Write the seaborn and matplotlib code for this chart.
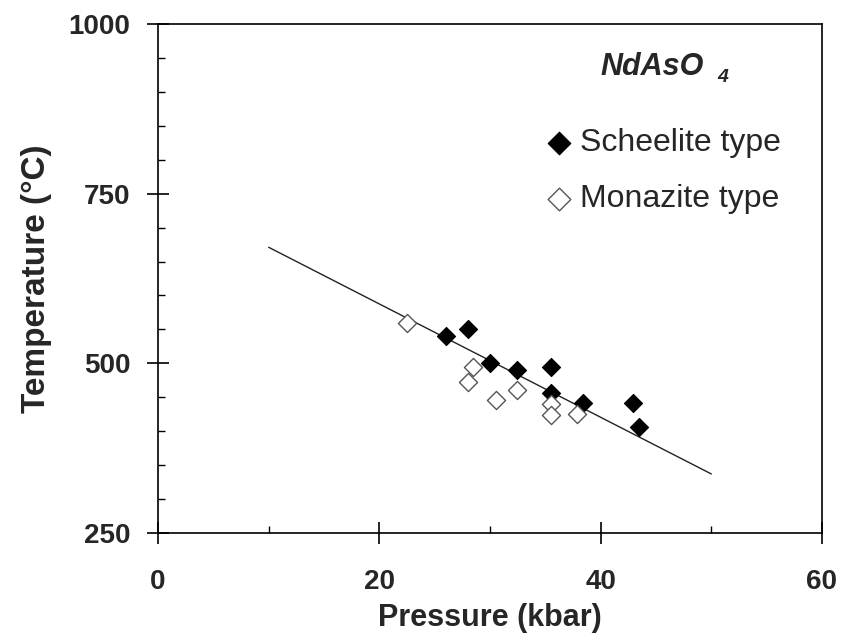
import matplotlib
matplotlib.use("Agg")
import matplotlib.pyplot as plt
import seaborn as sns
import pandas as pd
from matplotlib.ticker import MultipleLocator

# ---- data ----
scheelite_p = [26.0, 28.0, 30.0, 32.4, 35.5, 35.5, 38.4, 42.9, 43.5]
scheelite_t = [540, 550, 500, 490, 494, 456, 441, 441, 406]
monazite_p = [22.5, 28.5, 28.0, 30.5, 32.4, 35.5, 35.5, 37.9]
monazite_t = [559, 494, 473, 446, 460, 440, 424, 425]
fit_p = [10, 50]
fit_t = [671, 337]

x_ticks = [0, 20, 40, 60]
y_ticks = [250, 500, 750, 1000]

sch = pd.DataFrame({"p": scheelite_p, "t": scheelite_t})
mon = pd.DataFrame({"p": monazite_p, "t": monazite_t})
fit = pd.DataFrame({"p": fit_p, "t": fit_t})

sns.set_theme(style="white")
plt.rcParams["font.family"] = ["Liberation Sans", "DejaVu Sans"]

fig = plt.figure(figsize=(8.42, 6.37), dpi=100)
ax = fig.add_axes([158 / 842, 1 - 533 / 637, 664 / 842, 509 / 637])

sns.lineplot(data=fit, x="p", y="t", ax=ax, color="#222222", linewidth=1.0,
             legend=False)
sns.scatterplot(data=sch, x="p", y="t", ax=ax, marker="D", s=85,
                color="black", edgecolor="black", linewidth=0.8,
                label="Scheelite type", zorder=3)
sns.scatterplot(data=mon, x="p", y="t", ax=ax, marker="D", s=85,
                color="white", edgecolor="#555555", linewidth=1.0,
                label="Monazite type", zorder=3)

ax.set_xlim(0, 60)
ax.set_ylim(250, 1000)
ax.set_xticks(x_ticks)
ax.set_yticks(y_ticks)
ax.xaxis.set_minor_locator(MultipleLocator(10))
ax.yaxis.set_minor_locator(MultipleLocator(50))
ax.tick_params(which="major", direction="inout", length=16, width=1.2,
               color="black", labelsize=20, pad=4,
               bottom=True, left=True, top=False, right=False)
ax.tick_params(which="minor", direction="in", length=5, width=1.0,
               color="black", bottom=True, left=True, top=False, right=False)
ax.tick_params(axis="y", pad=12)
ax.tick_params(axis="x", pad=18)
for lab in ax.get_xticklabels() + ax.get_yticklabels():
    lab.set_fontweight("bold")

for sp in ax.spines.values():
    sp.set_visible(True)
    sp.set_color("black")
    sp.set_linewidth(1.2)

ax.set_xlabel("Pressure (kbar)", fontsize=22, fontweight="bold", labelpad=6)
ax.set_ylabel("Temperature (°C)", fontsize=24, fontweight="bold", labelpad=12)

ax.text(0.666, 0.90, "NdAsO", transform=ax.transAxes, fontsize=22,
        fontweight="bold", fontstyle="italic", ha="left", va="baseline")
ax.text(0.842, 0.886, "4", transform=ax.transAxes, fontsize=14,
        fontweight="bold", fontstyle="italic", ha="left", va="baseline")

leg = ax.legend(loc="upper left", bbox_to_anchor=(0.585, 0.795),
                frameon=False, fontsize=23, handlelength=0.8,
                handletextpad=0.25, labelspacing=0.8, borderpad=0,
                borderaxespad=0, markerscale=1.25)

fig.savefig("out.png", dpi=100)
